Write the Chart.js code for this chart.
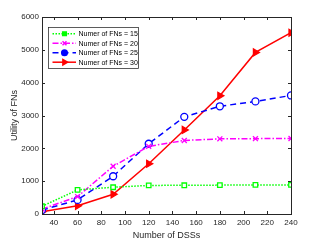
<!DOCTYPE html>
<html><head><meta charset="utf-8">
<script src="https://cdn.jsdelivr.net/npm/chart.js@4/dist/chart.umd.min.js"></script>
<style>html,body{margin:0;padding:0;background:#fff;overflow:hidden}</style>
</head><body>
<canvas id="c" width="321" height="241"></canvas>
<script>
const dss = [30, 60, 90, 120, 150, 180, 210, 240];
const fn15 = [235, 735, 815, 870, 875, 880, 885, 885];
const fn20 = [150, 530, 1455, 2060, 2240, 2290, 2295, 2300];
const fn25 = [120, 430, 1150, 2140, 2960, 3280, 3430, 3610];
const fn30 = [70, 250, 600, 1530, 2560, 3600, 4920, 5520];
const xTicks = [40, 60, 80, 100, 120, 140, 160, 180, 200, 220, 240];
const yTicks = [0, 1000, 2000, 3000, 4000, 5000, 6000];
const seriesNames = ['Numer of FNs = 15', 'Numer of FNs = 20', 'Numer of FNs = 25', 'Numer of FNs = 30'];

const FONT = '"Liberation Sans", Arial, sans-serif';
const AX = '#262626';

function pts(arr){ return arr.map((v,i)=>({x:dss[i], y:v})); }

const styles = [
  {color:'#00ff00', dash:[1.5,1.5], pointStyle:'rect', radius:3.2, rotation:0, fill:false},
  {color:'#ff00ff', dash:[6,2,1.5,2], pointStyle:'crossRot', radius:3.5, rotation:0, fill:false},
  {color:'#0000ff', dash:[6,4], pointStyle:'circle', radius:3.5, rotation:0, fill:false},
  {color:'#ff0000', dash:[], pointStyle:'triangle', radius:4, rotation:90, fill:true}
];
const allData = [fn15, fn20, fn25, fn30];

const datasets = allData.map((d,i)=>({
  label: seriesNames[i],
  data: pts(d),
  borderColor: styles[i].color,
  backgroundColor: styles[i].fill ? styles[i].color : '#ffffff',
  borderWidth: 1.5,
  borderDash: styles[i].dash,
  pointStyle: styles[i].pointStyle,
  pointRadius: styles[i].radius,
  pointRotation: styles[i].rotation,
  pointBorderWidth: 1.3,
  pointBackgroundColor: styles[i].fill ? styles[i].color : '#ffffff',
  pointBorderColor: styles[i].color,
  tension: 0
}));

const boxPlugin = {
  id: 'box',
  afterDraw(chart){
    const ctx = chart.ctx, a = chart.chartArea;
    const xs = chart.scales.x, ys = chart.scales.y;
    ctx.save();
    ctx.strokeStyle = AX; ctx.lineWidth = 1; ctx.setLineDash([]);
    ctx.strokeRect(Math.round(a.left)+0.5, Math.round(a.top)+0.5, Math.round(a.right-a.left), Math.round(a.bottom-a.top));
    const tl = 3;
    ctx.beginPath();
    xTicks.forEach(v=>{
      const x = Math.round(xs.getPixelForValue(v))+0.5;
      ctx.moveTo(x, a.bottom); ctx.lineTo(x, a.bottom-tl);
      ctx.moveTo(x, a.top); ctx.lineTo(x, a.top+tl);
    });
    yTicks.forEach(v=>{
      const y = Math.round(ys.getPixelForValue(v))+0.5;
      ctx.moveTo(a.left, y); ctx.lineTo(a.left+tl, y);
      ctx.moveTo(a.right, y); ctx.lineTo(a.right-tl, y);
    });
    ctx.stroke();

    // legend
    const lx = 48.5, ly = 27.5, lw = 90, lh = 41;
    ctx.fillStyle = '#fff';
    ctx.fillRect(lx, ly, lw, lh);
    ctx.strokeStyle = AX; ctx.lineWidth = 0.75;
    ctx.strokeRect(lx, ly, lw, lh);
    const rows = [33.7, 43.2, 52.7, 62.2];
    ctx.font = '7px ' + FONT;
    ctx.textBaseline = 'middle';
    styles.forEach((s,i)=>{
      const y = rows[i];
      ctx.strokeStyle = s.color; ctx.lineWidth = 1.5;
      ctx.setLineDash(s.dash);
      ctx.beginPath(); ctx.moveTo(52.5, y); ctx.lineTo(76, y); ctx.stroke();
      ctx.setLineDash([]);
      ctx.fillStyle = s.color;
      ctx.lineWidth = 1.5;
      Chart.helpers.drawPoint(ctx, {pointStyle: s.pointStyle, rotation: s.rotation, radius: s.radius*0.8, borderWidth: 1.5}, 64.5, y);
      ctx.fillStyle = '#000';
      ctx.fillText(seriesNames[i], 78.5, y+0.5);
    });
    ctx.restore();
  }
};

new Chart(document.getElementById('c'), {
  type: 'line',
  data: { datasets },
  options: {
    responsive: false,
    animation: false,
    devicePixelRatio: 1,
    layout: { padding: { top: 17, right: 30, left: 9, bottom: 0 } },
    plugins: { legend: { display: false }, tooltip: { enabled: false } },
    scales: {
      x: {
        type: 'linear', min: 30, max: 240,
        afterBuildTicks: s => { s.ticks = xTicks.map(v=>({value:v})); },
        afterFit: s => { s.height = 27; },
        grid: { display: false, drawTicks: false },
        border: { display: false },
        ticks: { font: { family: FONT, size: 8 }, color: AX, padding: 4, maxRotation: 0, autoSkip: false,
                 callback: v => String(v) },
        title: { display: true, text: 'Number of DSSs', font: { family: FONT, size: 9 }, color: AX, padding: { top: 1, bottom: 0 } }
      },
      y: {
        type: 'linear', min: 0, max: 6000,
        afterBuildTicks: s => { s.ticks = yTicks.map(v=>({value:v})); },
        afterFit: s => { s.width = 33; },
        grid: { display: false, drawTicks: false },
        border: { display: false },
        ticks: { font: { family: FONT, size: 8 }, color: AX, padding: 3, autoSkip: false,
                 callback: v => String(v) },
        title: { display: true, text: 'Utility of FNs', font: { family: FONT, size: 9 }, color: AX, padding: { top: 0, bottom: 2 } }
      }
    }
  },
  plugins: [boxPlugin]
});
</script>
</body></html>
